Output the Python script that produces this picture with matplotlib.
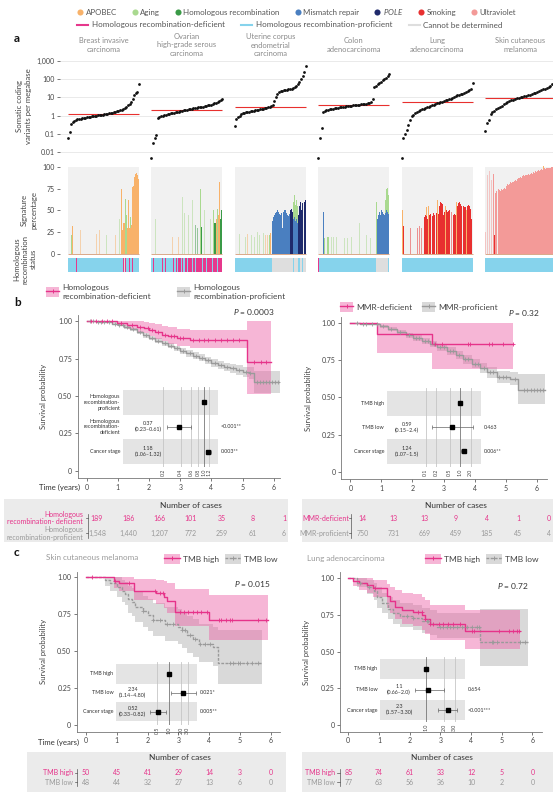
import numpy as np
import matplotlib
matplotlib.use('Agg')
import matplotlib.pyplot as plt
from matplotlib.lines import Line2D
from matplotlib.patches import Patch
from matplotlib.transforms import blended_transform_factory as blend

plt.rcParams['font.family'] = ['Lato', 'DejaVu Sans']
plt.rcParams['mathtext.fontset'] = 'custom'
plt.rcParams['mathtext.it'] = 'Lato:italic'
plt.rcParams['mathtext.rm'] = 'Lato'

# ---------------- DATA: panel a ----------------
cancers = ['Breast invasive\ncarcinoma', 'Ovarian\nhigh-grade serous\ncarcinoma',
           'Uterine corpus\nendometrial\ncarcinoma', 'Colon\nadenocarcinoma',
           'Lung\nadenocarcinoma', 'Skin cutaneous\nmelanoma']

breast_tmb = [0.06, 0.12, 0.35, 0.45, 0.52, 0.58, 0.62, 0.65, 0.68, 0.71, 0.74, 0.77, 0.8, 0.83,
              0.86, 0.89, 0.92, 0.95, 0.98, 1.01, 1.05, 1.09, 1.13, 1.17, 1.21, 1.25, 1.3, 1.36,
              1.42, 1.5, 1.6, 1.7, 1.8, 1.9, 2.0, 2.2, 2.6, 3.0, 3.6, 4.4, 5.6, 8.0, 13, 17, 20, 56]
ovarian_tmb = [0.005, 0.03, 0.06, 0.09, 0.75, 0.85, 0.95, 1.0, 1.05, 1.1, 1.15, 1.2, 1.3, 1.35, 1.4,
               1.5, 1.55, 1.6, 1.7, 1.8, 1.9, 2.0, 2.1, 2.2, 2.3, 2.4, 2.5, 2.6, 2.7, 2.8, 2.9, 3.0,
               3.1, 3.2, 3.4, 3.6, 3.8, 4.0, 4.3, 4.6, 5.0, 5.5, 6.2, 7.0, 8.0]
uterine_tmb = [0.28, 0.65, 0.8, 1.0, 1.2, 1.3, 1.4, 1.5, 1.55, 1.6, 1.7, 1.75, 1.8, 1.9, 2.0, 2.1,
               2.2, 2.3, 2.4, 2.5, 2.6, 2.8, 3.0, 3.3, 4.0, 6, 10, 15, 19, 21, 23, 24, 25, 26, 27,
               28, 30, 32, 35, 40, 50, 70, 100, 150, 250, 500]
colon_tmb = [0.005, 0.06, 0.2, 1.6, 1.8, 1.95, 2.05, 2.15, 2.25, 2.35, 2.45, 2.55, 2.65, 2.75, 2.85,
             2.95, 3.05, 3.15, 3.25, 3.35, 3.45, 3.55, 3.65, 3.75, 3.85, 3.95, 4.05, 4.2, 4.35, 4.5,
             4.7, 4.9, 5.3, 8.0, 35, 42, 50, 60, 72, 85, 100, 120, 145, 178]
lung_tmb = [0.005, 0.06, 0.1, 0.16, 0.3, 0.6, 0.9, 1.1, 1.3, 1.5, 1.7, 2.0, 2.2, 2.4, 2.6, 2.8, 3.0,
            3.3, 3.6, 3.9, 4.2, 4.6, 5.0, 5.4, 5.8, 6.2, 6.7, 7.2, 7.8, 8.5, 9.3, 10.5, 11.5, 12.5,
            13.5, 15, 16, 17, 19, 22, 26, 30, 61]
skin_tmb = [0.14, 0.4, 0.56, 1.2, 1.5, 1.8, 2.2, 2.6, 3.0, 3.5, 4.2, 4.8, 5.5, 6.2, 6.8, 7.4, 8.0,
            8.6, 9.2, 9.8, 10.4, 11, 12, 13, 14, 15, 16.5, 18, 20, 22, 24, 27, 30, 33, 37, 42, 50,
            60, 80]
tmb_values = [breast_tmb, ovarian_tmb, uterine_tmb, colon_tmb, lung_tmb, skin_tmb]
tmb_median = [1.2, 2.1, 2.8, 4.0, 5.2, 9.0]

# signature bars: (first sample, signature, heights of consecutive samples)
N_SIG = 70
breast_sig = [(3, 'aging', [22]), (4, 'apobec', [32]), (12, 'apobec', [28]), (28, 'apobec', [23]),
              (31, 'apobec', [27]), (37, 'aging', [22]), (46, 'apobec', [22]), (50, 'aging', [40]),
              (52, 'apobec', [75, 28, 36, 36]), (56, 'aging', [63, 45]),
              (58, 'apobec', [30, 62, 30, 30]), (61, 'aging', [12]),
              (62, 'apobec', [33, 77, 78, 88, 92, 93, 90, 86])]
ovarian_sig = [(4, 'aging', [40]), (20, 'apobec', [20]), (26, 'apobec', [20]), (30, 'aging', [65]),
               (32, 'aging', [47]), (36, 'aging', [45]), (40, 'aging', [62]), (43, 'hr', [33]),
               (45, 'hr', [30]), (48, 'aging', [75]), (49, 'hr', [31]), (52, 'aging', [50]),
               (58, 'aging', [40]), (61, 'aging', [50]), (62, 'hr', [35, 36]), (64, 'apobec', [40]),
               (65, 'aging', [52]), (66, 'apobec', [45, 83]), (68, 'hr', [40, 50])]
uterine_sig = [(4, 'aging', [23]), (10, 'aging', [20]), (12, 'apobec', [23]), (16, 'aging', [22]),
               (19, 'aging', [20]), (22, 'aging', [25]), (24, 'aging', [22]), (28, 'aging', [24]),
               (30, 'apobec', [22]), (32, 'apobec', [22]), (34, 'aging', [22]), (35, 'apobec', [24]),
               (37, 'mmr', [38, 42, 45, 47, 48, 50, 48, 46, 45, 47, 30, 48, 50, 47, 45, 44, 46]),
               (54, 'pole', [50, 52, 48]), (57, 'mmr', [40, 42, 38, 40, 35]),
               (57, 'aging', [20, 25, 18, 22, 20]), (62, 'pole', [45, 55, 60, 50, 58, 0, 60, 62])]
colon_sig = [(5, 'mmr', [48]), (6, 'aging', [18]), (9, 'aging', [20, 20]), (13, 'aging', [20]),
             (15, 'aging', [20]), (18, 'aging', [20]), (25, 'aging', [18]), (28, 'aging', [18]),
             (32, 'aging', [20]), (40, 'aging', [35]), (47, 'aging', [22]), (51, 'aging', [18]),
             (57, 'aging', [60]), (58, 'mmr', [40, 45, 48, 45, 50, 48, 46, 45, 47, 50, 48, 46]),
             (66, 'aging', [15, 25, 28, 22])]
lung_sig = [(0, 'apobec', [50]), (1, 'smoking', [32]), (8, 'smoking', [30]),
            (15, 'smoking', [30, 0, 32, 0, 30, 0, 0, 42, 45, 44, 40, 0, 45, 46, 0, 44, 47, 45, 0, 47,
                             0, 46, 55, 60, 58, 57, 45, 48, 0, 50, 48, 49, 50, 0, 48, 0, 45, 46, 45, 0,
                             55, 58, 60, 57, 55, 0, 55, 54, 0, 55, 56, 55, 52, 40]),
            (24, 'apobec', [10]), (26, 'apobec', [55]), (35, 'apobec', [62]), (43, 'apobec', [55]),
            (54, 'apobec', [60]), (63, 'apobec', [50])]
skin_sig = [(0, 'uv', [25, 0, 90, 0, 95, 0, 85, 0, 92]), (9, 'smoking', [22]),
            (10, 'uv', [70, 72, 0, 75, 73]),
            (15, 'uv', [72, 74, 73, 75, 76, 75, 78, 80, 79, 80, 82, 81, 83, 82, 84, 85, 84, 86, 87, 88,
                        87, 89, 90, 89, 90, 91, 90, 92, 91, 92, 93, 92, 94, 93, 95, 94, 95, 96, 95, 96,
                        97, 96, 97, 98, 97, 98, 99, 98, 99, 99, 100, 100, 100, 100, 100]),
            (57, 'apobec', [4])]
sig_data = [breast_sig, ovarian_sig, uterine_sig, colon_sig, lung_sig, skin_sig]

# HR status, run-length (status, number of samples)
breast_hr = [('P', 8), ('D', 1), ('P', 45), ('D', 1), ('U', 1), ('D', 1), ('P', 3), ('D', 1),
             ('P', 2), ('D', 1), ('P', 6)]
ovarian_hr = [('P', 2), ('D', 1), ('P', 7), ('D', 1), ('P', 2), ('D', 1), ('P', 7), ('D', 1),
              ('P', 2), ('D', 1), ('P', 1), ('D', 3), ('P', 1), ('D', 1), ('P', 2), ('D', 2),
              ('P', 1), ('D', 4), ('P', 1), ('D', 2), ('P', 1), ('D', 6), ('P', 1), ('D', 3),
              ('P', 1), ('D', 5), ('P', 1), ('D', 4), ('P', 1), ('D', 4)]
uterine_hr = [('P', 37), ('U', 20), ('P', 1), ('U', 4), ('P', 2), ('U', 2), ('P', 1), ('U', 3)]
colon_hr = [('D', 1), ('P', 56), ('U', 12), ('P', 1)]
lung_hr = [('P', 70)]
skin_hr = [('P', 70)]
hr_runs = [breast_hr, ovarian_hr, uterine_hr, colon_hr, lung_hr, skin_hr]

SIG_COLORS = {'apobec': '#f8b26a', 'aging': '#a9d98f', 'hr': '#3a9a47', 'mmr': '#4a7fc0',
              'pole': '#1f2a6b', 'smoking': '#e83030', 'uv': '#f39a98'}
SIG_NAMES = [('apobec', 'APOBEC'), ('aging', 'Aging'), ('hr', 'Homologous recombination'),
             ('mmr', 'Mismatch repair'), ('pole', r'$\mathit{POLE}$'), ('smoking', 'Smoking'),
             ('uv', 'Ultraviolet')]
HR_COLORS = {'D': '#e6388c', 'P': '#86d3ec', 'U': '#dedede'}

# ---------------- DATA: survival curves ----------------
hrd_t = [0, 0.96, 1.3, 1.6, 1.85, 2.0, 2.2, 2.4, 2.6, 2.9, 3.3, 5.15, 5.9]
hrd_s = [1.0, 0.99, 0.977, 0.965, 0.955, 0.94, 0.925, 0.91, 0.9, 0.888, 0.874, 0.726, 0.726]
hrd_lo = [1.0, 0.97, 0.95, 0.93, 0.92, 0.9, 0.88, 0.865, 0.85, 0.835, 0.82, 0.51, 0.51]
hrd_hi = [1.0, 1.0, 1.0, 1.0, 0.995, 0.99, 0.98, 0.97, 0.96, 0.95, 0.94, 1.0, 1.0]
hrd_cens = [0.15, 0.3, 0.5, 0.65, 0.8, 1.1, 1.45, 1.7, 1.95, 2.1, 2.3, 2.5, 2.7, 2.8, 3.0, 3.1,
            3.4, 3.6, 3.75, 3.9, 4.1, 4.3, 4.5, 4.7, 4.9, 5.35, 5.6, 5.75]

hrp_t = [0, 0.3, 0.6, 0.8, 1.0, 1.2, 1.4, 1.6, 1.8, 2.0, 2.2, 2.4, 2.6, 2.8, 3.0, 3.2, 3.4, 3.6,
         3.8, 4.0, 4.2, 4.4, 4.6, 4.8, 5.0, 5.2, 5.35, 6.2]
hrp_s = [1.0, 0.998, 0.993, 0.985, 0.977, 0.96, 0.945, 0.925, 0.905, 0.888, 0.87, 0.853, 0.836,
         0.818, 0.8, 0.785, 0.77, 0.755, 0.738, 0.72, 0.71, 0.695, 0.685, 0.672, 0.66, 0.652,
         0.593, 0.593]
hrp_lo = [1.0, 0.995, 0.987, 0.977, 0.968, 0.95, 0.933, 0.912, 0.891, 0.873, 0.854, 0.836, 0.818,
          0.799, 0.78, 0.764, 0.748, 0.732, 0.714, 0.695, 0.683, 0.666, 0.654, 0.638, 0.624,
          0.612, 0.52, 0.52]
hrp_hi = [1.0, 1.0, 0.998, 0.993, 0.986, 0.97, 0.957, 0.938, 0.919, 0.903, 0.886, 0.87, 0.854,
          0.837, 0.82, 0.806, 0.792, 0.778, 0.762, 0.745, 0.737, 0.724, 0.716, 0.706, 0.696,
          0.692, 0.67, 0.67]
hrp_cens = [0.1, 0.2, 0.35, 0.45, 0.55, 0.7, 0.9, 1.05, 1.15, 1.3, 1.5, 1.7, 1.9, 2.1, 2.3, 2.5,
            2.7, 2.9, 3.1, 3.3, 3.5, 3.7, 3.9, 4.1, 4.3, 4.5, 4.7, 4.9, 5.1, 5.25, 5.45, 5.55,
            5.65, 5.75, 5.85, 5.95, 6.05, 6.15]

mmrd_t = [0, 0.85, 2.62, 5.24]
mmrd_s = [1.0, 0.926, 0.857, 0.857]
mmrd_lo = [1.0, 0.80, 0.69, 0.69]
mmrd_hi = [1.0, 1.0, 1.0, 1.0]
mmrd_cens = [2.73, 2.95, 3.8, 3.86, 4.45, 4.55, 4.9, 5.22]

mmrp_t = [0, 0.3, 0.6, 0.95, 1.2, 1.49, 1.8, 2.03, 2.3, 2.56, 2.8, 3.1, 3.4, 3.64, 3.9, 4.17,
          4.39, 4.71, 5.14, 5.41, 6.26]
mmrp_s = [1.0, 0.995, 0.99, 0.978, 0.96, 0.938, 0.918, 0.9, 0.88, 0.86, 0.838, 0.81, 0.783,
          0.755, 0.728, 0.70, 0.67, 0.637, 0.626, 0.55, 0.55]
mmrp_lo = [1.0, 0.99, 0.983, 0.968, 0.948, 0.924, 0.902, 0.882, 0.86, 0.838, 0.814, 0.784,
           0.755, 0.725, 0.696, 0.666, 0.634, 0.595, 0.585, 0.456, 0.456]
mmrp_hi = [1.0, 1.0, 0.997, 0.988, 0.972, 0.952, 0.934, 0.918, 0.9, 0.882, 0.862, 0.836, 0.811,
           0.785, 0.76, 0.734, 0.706, 0.68, 0.668, 0.66, 0.66]
mmrp_cens = [0.2, 0.4, 0.5, 0.7, 0.85, 1.05, 1.3, 1.6, 1.9, 2.1, 2.2, 2.4, 2.5, 2.7, 2.9, 3.0,
             3.2, 3.3, 3.5, 3.7, 3.8, 4.0, 4.1, 4.3, 4.5, 4.6, 4.8, 4.9, 5.0, 5.3, 5.6, 5.7, 5.8,
             5.9, 6.0, 6.1, 6.2]

skh_t = [0, 0.92, 1.08, 1.56, 2.29, 2.54, 2.62, 2.89, 3.99, 5.92]
skh_s = [1.0, 0.977, 0.959, 0.909, 0.892, 0.869, 0.842, 0.767, 0.711, 0.711]
skh_lo = [1.0, 0.93, 0.905, 0.845, 0.82, 0.79, 0.76, 0.67, 0.575, 0.575]
skh_hi = [1.0, 1.0, 1.0, 0.99, 0.985, 0.975, 0.96, 0.92, 0.882, 0.882]
skh_cens = [0.19, 0.94, 1.4, 2.24, 2.4, 2.5, 3.05, 3.19, 3.32, 3.46, 3.59, 3.75, 3.92, 4.33, 4.4,
            4.56, 4.67, 4.75, 5.57, 5.86]

skl_t = [0, 0.63, 0.78, 1.0, 1.16, 1.27, 1.37, 1.48, 1.59, 1.86, 2.02, 2.19, 2.56, 3.0, 3.11,
         3.27, 3.48, 3.68, 4.13, 4.3, 5.7]
skl_s = [1.0, 0.98, 0.96, 0.935, 0.91, 0.89, 0.85, 0.83, 0.80, 0.77, 0.745, 0.71, 0.685, 0.665,
         0.64, 0.61, 0.585, 0.55, 0.525, 0.42, 0.42]
skl_lo = [1.0, 0.94, 0.91, 0.87, 0.835, 0.81, 0.76, 0.735, 0.7, 0.665, 0.635, 0.6, 0.57, 0.55,
          0.52, 0.49, 0.46, 0.43, 0.4, 0.28, 0.28]
skl_hi = [1.0, 1.0, 1.0, 1.0, 0.985, 0.97, 0.94, 0.925, 0.9, 0.875, 0.855, 0.825, 0.8, 0.785,
          0.765, 0.74, 0.715, 0.685, 0.665, 0.64, 0.64]
skl_cens = [1.86, 2.19, 2.4, 2.62, 2.84, 3.11, 3.22, 3.38, 3.54, 3.7, 3.86, 4.03, 4.68, 4.78,
            4.94, 5.0, 5.22, 5.38, 5.6]

luh_t = [0, 0.15, 0.35, 0.6, 0.8, 1.25, 1.36, 1.52, 1.74, 2.12, 2.4, 2.5, 2.66, 3.8, 5.58]
luh_s = [1.0, 0.984, 0.966, 0.955, 0.932, 0.88, 0.845, 0.807, 0.784, 0.773, 0.75, 0.72, 0.688,
         0.643, 0.643]
luh_lo = [1.0, 0.95, 0.92, 0.9, 0.87, 0.8, 0.76, 0.72, 0.69, 0.675, 0.65, 0.62, 0.58, 0.52, 0.52]
luh_hi = [1.0, 1.0, 1.0, 1.0, 0.99, 0.96, 0.94, 0.92, 0.9, 0.89, 0.87, 0.85, 0.82, 0.78, 0.78]
luh_cens = [0.87, 2.28, 2.39, 2.5, 2.66, 2.77, 2.94, 3.1, 3.26, 3.42, 3.64, 4.02, 4.08, 4.9, 5.22,
            5.38, 5.49, 5.55]

lul_t = [0, 0.3, 0.6, 0.85, 0.95, 1.1, 1.3, 1.45, 1.7, 2.1, 2.4, 2.65, 2.9, 4.3, 5.87]
lul_s = [1.0, 0.97, 0.94, 0.91, 0.87, 0.83, 0.79, 0.76, 0.745, 0.73, 0.71, 0.69, 0.667, 0.568,
         0.568]
lul_lo = [1.0, 0.94, 0.89, 0.85, 0.8, 0.76, 0.72, 0.69, 0.67, 0.65, 0.63, 0.61, 0.59, 0.40, 0.40]
lul_hi = [1.0, 1.0, 0.99, 0.97, 0.94, 0.9, 0.87, 0.85, 0.83, 0.82, 0.8, 0.78, 0.76, 0.79, 0.79]
lul_cens = [0.38, 0.66, 1.9, 2.12, 2.56, 2.61, 2.99, 3.1, 3.2, 3.31, 3.42, 3.53, 3.69, 3.86, 4.02,
            4.18, 4.27, 4.67, 4.72, 4.83, 5.6, 5.77]

# forest plots: (label, hazard ratio, ci low, ci high, estimate text, p text)
forest_b1 = [('Homologous\nrecombination-\nproficient', 1.0, None, None, '', ''),
             ('Homologous\nrecombination-\ndeficient', 0.37, 0.23, 0.61, '0.37\n(0.23–0.61)', '<0.001**'),
             ('Cancer stage', 1.18, 1.06, 1.32, '1.18\n(1.06–1.32)', '0.003**')]
forest_b2 = [('TMB high', 1.0, None, None, '', ''),
             ('TMB low', 0.59, 0.15, 2.4, '0.59\n(0.15–2.4)', '0.463'),
             ('Cancer stage', 1.24, 1.07, 1.5, '1.24\n(1.07–1.5)', '0.006**')]
forest_c1 = [('TMB high', 1.0, None, None, '', ''),
             ('TMB low', 2.34, 1.14, 4.80, '2.34\n(1.14–4.80)', '0.021*'),
             ('Cancer stage', 0.52, 0.33, 0.82, '0.52\n(0.33–0.82)', '0.005**')]
forest_c2 = [('TMB high', 1.0, None, None, '', ''),
             ('TMB low', 1.1, 0.66, 2.0, '1.1\n(0.66–2.0)', '0.654'),
             ('Cancer stage', 2.3, 1.57, 3.30, '2.3\n(1.57–3.30)', '<0.001***')]

# numbers at risk
hrd_risk = [189, 186, 166, 101, 35, 8, 1]
hrp_risk = [1548, 1440, 1207, 772, 259, 61, 6]
mmrd_risk = [14, 13, 13, 9, 4, 1, 0]
mmrp_risk = [750, 731, 669, 459, 185, 45, 4]
skh_risk = [50, 45, 41, 29, 14, 3, 0]
skl_risk = [48, 44, 32, 27, 13, 6, 0]
luh_risk = [85, 74, 61, 33, 12, 5, 0]
lul_risk = [77, 63, 56, 36, 10, 2, 0]

# ---------------- style ----------------
PINK = '#e6338a'
PINK_FILL = '#ec5fa5'
GRAY = '#9a9a9a'
GRAY_FILL = '#a0a0a0'
TXT = '#444444'
W, H = 553, 802

fig = plt.figure(figsize=(W / 100, H / 100), dpi=100)


def px_axes(x0, y0, x1, y1):
    return fig.add_axes([x0 / W, 1 - y1 / H, (x1 - x0) / W, (y1 - y0) / H])


def fx(x):
    return x / W


def fy(y):
    return 1 - y / H


# ---------------- top legend ----------------
h1 = [Line2D([], [], marker='o', ls='', color=SIG_COLORS[k], ms=4.4, mew=0) for k, _ in SIG_NAMES]
fig.legend(h1, [n for _, n in SIG_NAMES], loc='center left', bbox_to_anchor=(fx(76), fy(11.7)),
           ncol=7, frameon=False, fontsize=5.7, handletextpad=0.2, columnspacing=1.75,
           handlelength=1.0, borderpad=0, borderaxespad=0, labelcolor='#555555')
h2 = [Line2D([], [], color=HR_COLORS[k], lw=1.5) for k in ('D', 'P', 'U')]
fig.legend(h2, ['Homologous recombination-deficient', 'Homologous recombination-proficient',
                'Cannot be determined'],
           loc='center left', bbox_to_anchor=(fx(77), fy(25)), ncol=3, frameon=False,
           fontsize=5.8, handletextpad=0.45, columnspacing=2.0, handlelength=1.4,
           borderpad=0, borderaxespad=0, labelcolor='#555555')

# ---------------- panel a ----------------
GW = 0.851
XLIM_A = (-0.096, 5.815)

ax_tmb = px_axes(60, 56, 553, 160)
for v in [0.01, 0.1, 1, 10, 100, 1000]:
    ax_tmb.axhline(v, color='#e6e6e6', lw=0.6, zorder=0)
for i, vals in enumerate(tmb_values):
    v = np.sort(vals)
    xs = i + GW * np.arange(len(v)) / (len(v) - 1)
    ax_tmb.plot(xs, v, 'o', ms=2.0, mew=0, color='#111111', zorder=3)
    ax_tmb.hlines(tmb_median[i], i, i + GW, color='#e8302e', lw=0.8, zorder=2)
    ax_tmb.text(i + GW / 2, fy(45), cancers[i], transform=blend(ax_tmb.transData, fig.transFigure),
                ha='center', va='center', fontsize=5.4, color='#8a8a8a', linespacing=1.25)
ax_tmb.set_yscale('log')
ax_tmb.set_ylim(0.0037, 1800)
ax_tmb.set_xlim(XLIM_A)
ax_tmb.set_yticks([0.01, 0.1, 1, 10, 100, 1000])
ax_tmb.set_yticklabels(['0.01', '0.1', '1', '10', '100', '1,000'])
ax_tmb.minorticks_off()
ax_tmb.set_xticks([])
ax_tmb.tick_params(axis='y', labelsize=5, colors=TXT, length=2.5, width=0.5, pad=1.5)
for sp in ax_tmb.spines.values():
    sp.set_visible(False)
ax_tmb.patch.set_visible(False)

ax_sig = px_axes(60, 166, 553, 255)
for i, entries in enumerate(sig_data):
    ax_sig.bar(i, 100, width=GW, align='edge', color='#f1f1f1', lw=0, zorder=0)
    totals = np.zeros(N_SIG)
    for start, sig, hs in entries:
        for k, h in enumerate(hs):
            totals[start + k] += h
    bottoms = np.zeros(N_SIG)
    for start, sig, hs in entries:
        for k, h in enumerate(hs):
            j = start + k
            if h <= 0:
                continue
            lone = (j == 0 or totals[j - 1] == 0) and (j == N_SIG - 1 or totals[j + 1] == 0)
            ax_sig.bar(i + GW * j / N_SIG, h, width=GW / N_SIG, bottom=bottoms[j], align='edge',
                       color=SIG_COLORS[sig], alpha=0.5 if lone else 1.0, lw=0, zorder=2)
            bottoms[j] += h
    ax_sig.hlines(0, i, i + GW, color='#d9a889', lw=0.7, zorder=3)
ax_sig.set_xlim(XLIM_A)
ax_sig.set_ylim(-1.2, 100.8)
ax_sig.set_xticks([])
ax_sig.set_yticks([0, 25, 50, 75, 100])
ax_sig.tick_params(axis='y', labelsize=5, colors=TXT, length=2.5, width=0.5, pad=1.5)
for sp in ax_sig.spines.values():
    sp.set_visible(False)

ax_hr = px_axes(60, 257, 553, 273)
for i, runs in enumerate(hr_runs):
    n = sum(r[1] for r in runs)
    pos = 0
    for code, length in runs:
        ax_hr.bar(i + GW * pos / n, 0.9, bottom=0.05, width=GW * length / n, align='edge',
                  color=HR_COLORS[code], lw=0)
        pos += length
ax_hr.set_xlim(XLIM_A)
ax_hr.set_ylim(0, 1)
ax_hr.axis('off')

fig.text(fx(24), fy(106), 'Somatic coding\nvariants per megabase', rotation=90, ha='center',
         va='center', fontsize=5.6, color=TXT, linespacing=1.2)
fig.text(fx(29), fy(210), 'Signature\npercentage', rotation=90, ha='center', va='center',
         fontsize=5.6, color=TXT, linespacing=1.4)
fig.text(fx(25), fy(259), 'Homologous\nrecombination\nstatus', rotation=90, ha='center',
         va='center', fontsize=5.6, color=TXT, linespacing=1.2)

for letter, y in (('a', 38), ('b', 303), ('c', 552)):
    fig.text(fx(14), fy(y), letter, fontsize=8.5, fontweight='bold', va='center', color='#111')


# ---------------- survival helpers ----------------
def step_value(t, s, x):
    k = np.searchsorted(t, x, side='right') - 1
    return np.asarray(s)[k]


def km_axes(rect, xlim, ylim, label_x):
    ax = px_axes(*rect)
    ax.set_xlim(xlim)
    ax.set_ylim(ylim)
    for side in ('top', 'right'):
        ax.spines[side].set_visible(False)
    for side in ('left', 'bottom'):
        ax.spines[side].set_color('#777777')
        ax.spines[side].set_linewidth(0.6)
    ax.set_xticks(range(7))
    ax.set_yticks([0, 0.25, 0.5, 0.75, 1.0])
    ax.set_yticklabels(['0', '0.25', '0.50', '0.75', '1.00'])
    ax.tick_params(labelsize=5, colors=TXT, length=2, width=0.5, pad=2)
    ax.set_ylabel('Survival probability', fontsize=5.6, color=TXT)
    ax.yaxis.set_label_coords(label_x, 0.5)
    ax.patch.set_visible(False)
    return ax


def km_curve(ax, t, s, lo, hi, cens, color, fill, alpha, ls='-'):
    ax.fill_between(t, lo, hi, step='post', color=fill, alpha=alpha, lw=0, zorder=1)
    ax.step(t, s, where='post', color=color, lw=1.0, ls=ls, zorder=3)
    ax.plot(cens, step_value(t, s, cens), '+', color=color, ms=3, mew=0.6, zorder=4)


def forest(rect, xlim, ylim, ticks, rows, est_x):
    ax = px_axes(*rect)
    ax.set_xscale('log')
    ax.set_xlim(xlim)
    ax.set_ylim(ylim)
    ax.axis('off')
    ax.patch.set_visible(False)
    for y in (2, 0):
        ax.axhspan(y - 0.51, y + 0.51, color='#e4e4e4', lw=0, zorder=0)
    tr_tick = blend(ax.transData, ax.transAxes)
    for tk in ticks:
        ax.axvline(tk, color='#777777' if tk == 1 else '#c6c6c6', lw=0.6, zorder=1)
        ax.text(tk, -0.02, f'{tk:.1f}', transform=tr_tick, rotation=90, ha='center', va='top',
                fontsize=3.8, color=TXT)
    tr = blend(ax.transAxes, ax.transData)
    for k, (lab, hr, lo, hi, est, p) in enumerate(rows):
        y = 2 - k
        if lo is None:
            ax.plot([hr], [y], 's', ms=2.6, color='k', zorder=3)
        else:
            ax.errorbar([hr], [y], xerr=[[hr - lo], [hi - hr]], fmt='s', ms=2.6, color='k',
                        ecolor='#666666', elinewidth=0.5, capsize=1.3, capthick=0.5, zorder=3)
        ax.text(-0.03, y, lab, transform=tr, ha='right', va='center', fontsize=3.9, color='#333',
                linespacing=1.15)
        ax.text(est_x, y, est, transform=tr, ha='center', va='center', fontsize=3.9,
                color='#333', linespacing=1.2)
        ax.text(1.03, y, p, transform=tr, ha='left', va='center', fontsize=3.9, color='#333')
    return ax


def risk_table(rect, km_rect, km_xlim, rows, shift, head_t, label_px, bar_px, rows_y):
    ax = px_axes(*rect)
    scale = (km_xlim[1] - km_xlim[0]) / (km_rect[2] - km_rect[0])

    def to_t(px):
        return km_xlim[0] + (px - km_rect[0]) * scale
    ax.set_xlim(to_t(rect[0]), to_t(rect[2]))
    ax.set_ylim(0, 1)
    ax.set_facecolor('#ebebeb')
    ax.set_xticks([])
    ax.set_yticks([])
    for sp in ax.spines.values():
        sp.set_visible(False)
    ax.text(head_t, rows_y[0], 'Number of cases', ha='center', va='center', fontsize=6,
            color='#333')
    bx = to_t(bar_px)
    for (label, counts, color), y in zip(rows, rows_y[1:]):
        ax.text(to_t(label_px), y, label, ha='right', va='center', color=color, fontsize=5,
                linespacing=1.05)
        for k, n in enumerate(counts):
            ax.text(k + shift, y, f'{n:,}', ha='center', va='center', color=color, fontsize=5)
        ax.plot([bx - 0.07, bx], [y, y], color='#555555', lw=0.5)
    ax.plot([bx, bx], [rows_y[2] - 0.1, rows_y[1] + 0.1], color='#555555', lw=0.5)


def box_legend(x, y, fill, alpha, color, ls, label, hl):
    h = (Patch(facecolor=fill, alpha=alpha, edgecolor='none'),
         Line2D([], [], color=color, lw=1.0, ls=ls, marker='+', ms=3.5, mew=0.7))
    fig.legend([h], [label], loc='center left', bbox_to_anchor=(fx(x), fy(y)), frameon=False,
               fontsize=6, handlelength=hl, handleheight=1.5, handletextpad=0.4, borderpad=0,
               borderaxespad=0, labelcolor=TXT)


# ---------------- panel b ----------------
KM_B1 = (77.7, 314.7, 280, 478)
XL_B1 = (-0.29, 6.2)
ax = km_axes(KM_B1, XL_B1, (-0.049, 1.044), -0.153)
km_curve(ax, hrp_t, hrp_s, hrp_lo, hrp_hi, hrp_cens, GRAY, GRAY_FILL, 0.4)
km_curve(ax, hrd_t, hrd_s, hrd_lo, hrd_hi, hrd_cens, PINK, PINK_FILL, 0.45)
ax.text(0.975, 1.016, r'$P$ = 0.0003', transform=ax.transAxes, ha='right', va='center',
        fontsize=6, color='#333')
ax.text(-0.22, -0.055, 'Time (years)', transform=blend(ax.transData, ax.transAxes), ha='right',
        va='center', fontsize=5.6, color='#333')
forest((123, 387, 218, 467), (0.0417, 1.73), (-0.63, 2.63), [0.2, 0.4, 0.6, 0.8, 1.0, 1.2],
       forest_b1, 0.263)
box_legend(46, 292, PINK_FILL, 0.45, PINK, '-', 'Homologous\nrecombination-deficient', 1.6)
box_legend(177, 292, GRAY_FILL, 0.4, GRAY, '-', 'Homologous\nrecombination-proficient', 1.6)
risk_table((4, 499, 288, 542), KM_B1, XL_B1,
           [('Homologous\nrecombination- deficient', hrd_risk, PINK),
            ('Homologous\nrecombination-proficient', hrp_risk, '#999999')],
           0.33, 3.35, 83, 88, (0.85, 0.55, 0.2))

KM_B2 = (341, 317.3, 546.7, 479)
XL_B2 = (-0.3, 6.32)
ax = km_axes(KM_B2, XL_B2, (-0.047, 1.038), -0.142)
km_curve(ax, mmrp_t, mmrp_s, mmrp_lo, mmrp_hi, mmrp_cens, GRAY, GRAY_FILL, 0.4)
km_curve(ax, mmrd_t, mmrd_s, mmrd_lo, mmrd_hi, mmrd_cens, PINK, PINK_FILL, 0.45)
ax.text(0.967, 1.026, r'$P$ = 0.32', transform=ax.transAxes, ha='right', va='center',
        fontsize=6, color='#333')
forest((387, 388, 481, 467), (0.00762, 3.97), (-0.654, 2.64), [0.1, 0.2, 0.5, 1.0, 2.0],
       forest_b2, 0.213)
box_legend(340, 307, PINK_FILL, 0.45, PINK, '-', 'MMR-deficient', 1.6)
box_legend(422, 307, GRAY_FILL, 0.4, GRAY, '-', 'MMR-proficient', 1.6)
risk_table((302, 499, 553, 542), KM_B2, XL_B2,
           [('MMR-deficient', mmrd_risk, PINK), ('MMR-proficient', mmrp_risk, '#999999')],
           0.4, 3.4, 349, 351, (0.85, 0.55, 0.2))

# ---------------- panel c ----------------
KM_C1 = (76.7, 571.7, 280, 731.7)
XL_C1 = (-0.3, 6.3)
ax = km_axes(KM_C1, XL_C1, (-0.045, 1.038), -0.148)
km_curve(ax, skl_t, skl_s, skl_lo, skl_hi, skl_cens, GRAY, GRAY_FILL, 0.4, ls=(0, (2, 1)))
km_curve(ax, skh_t, skh_s, skh_lo, skh_hi, skh_cens, PINK, PINK_FILL, 0.45)
ax.text(0.954, 0.923, r'$P$ = 0.015', transform=ax.transAxes, ha='right', va='center',
        fontsize=6, color='#333')
ax.text(-0.22, -0.068, 'Time (years)', transform=blend(ax.transData, ax.transAxes), ha='right',
        va='center', fontsize=5.6, color='#333')
forest((116, 662, 197, 725), (0.0432, 5.2), (-0.7, 2.63), [0.5, 1.0, 2.0, 3.0],
       forest_c1, 0.206)
fig.text(fx(46), fy(558), 'Skin cutaneous melanoma', fontsize=5.8, color='#9a9a9a', va='center')
box_legend(164, 559, PINK_FILL, 0.45, PINK, '-', 'TMB high', 1.9)
box_legend(225, 559, GRAY_FILL, 0.4, GRAY, (0, (2, 1)), 'TMB low', 1.9)
risk_table((27, 751.5, 286, 792), KM_C1, XL_C1,
           [('TMB high', skh_risk, PINK), ('TMB low', skl_risk, '#999999')],
           0.0, 3.05, 73, 77.3, (0.85, 0.48, 0.24))

KM_C2 = (340, 572.3, 541.7, 731.7)
XL_C2 = (-0.27, 6.3)
ax = km_axes(KM_C2, XL_C2, (-0.045, 1.04), -0.149)
km_curve(ax, lul_t, lul_s, lul_lo, lul_hi, lul_cens, GRAY, GRAY_FILL, 0.4, ls=(0, (2, 1)))
km_curve(ax, luh_t, luh_s, luh_lo, luh_hi, luh_cens, PINK, PINK_FILL, 0.45)
ax.text(0.939, 0.914, r'$P$ = 0.72', transform=ax.transAxes, ha='right', va='center',
        fontsize=6, color='#333')
forest((380, 657, 465, 722), (0.177, 4.43), (-0.585, 2.585), [1.0, 2.0, 3.0], forest_c2, 0.224)
fig.text(fx(307), fy(558), 'Lung adenocarcinoma', fontsize=5.8, color='#9a9a9a', va='center')
box_legend(425, 559, PINK_FILL, 0.45, PINK, '-', 'TMB high', 1.9)
box_legend(486, 559, GRAY_FILL, 0.4, GRAY, (0, (2, 1)), 'TMB low', 1.9)
risk_table((302, 751.5, 553, 792), KM_C2, XL_C2,
           [('TMB high', luh_risk, PINK), ('TMB low', lul_risk, '#999999')],
           0.0, 3.06, 335, 339.6, (0.85, 0.48, 0.24))

fig.savefig('out.png', dpi=100)
